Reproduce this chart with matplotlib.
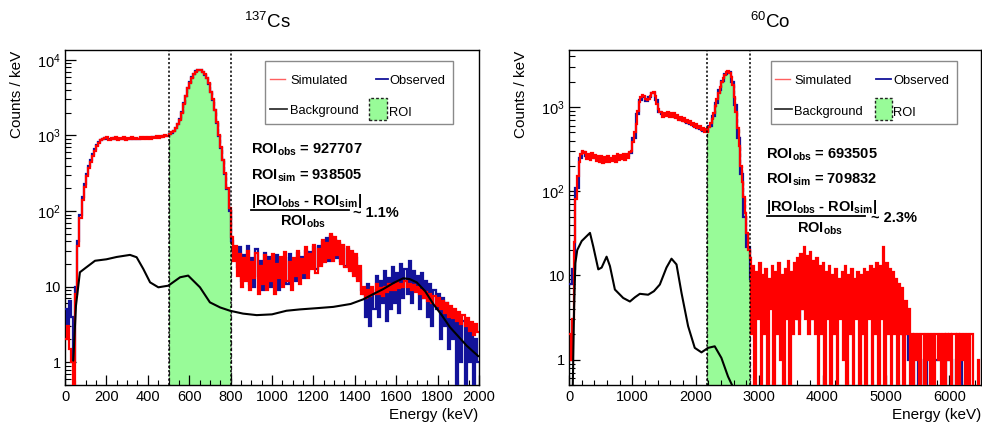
# Cs-137 and Co-60 spectra: simulated vs observed, with background and ROI
import numpy as np
import matplotlib
matplotlib.use("Agg")
import matplotlib.pyplot as plt
from matplotlib.patches import Rectangle
from matplotlib.lines import Line2D
from matplotlib.ticker import FixedLocator, LogLocator, NullFormatter, MultipleLocator

plt.rcParams['font.family'] = ['Liberation Sans', 'DejaVu Sans']
plt.rcParams['mathtext.fontset'] = 'custom'
plt.rcParams['mathtext.rm'] = 'Liberation Sans'
plt.rcParams['mathtext.bf'] = 'Liberation Sans:bold'
plt.rcParams['mathtext.it'] = 'Liberation Sans:italic'

# ---------------- 137Cs data (10 keV bins, 0-2000 keV) ----------------
cs_bin = 10
cs_sim = [2, 3, 1.5, 1, 0, 8, 35, 80, 140, 210, 290, 370, 450, 540, 630, 720, 800, 860, 900, 920,
          940, 880, 930, 890, 945, 875, 920, 895, 950, 880, 925, 890, 945, 900, 930, 885, 950, 905, 940, 895,
          955, 910, 960, 920, 975, 930, 985, 950, 1010, 980,
          1050, 1100, 1150, 1250, 1400, 1600, 2000, 2600, 3300, 4200, 5000, 5800, 6500, 7000, 7300,
          7300, 7000, 6500, 5800, 4900, 3800, 3000, 2200, 1500, 1000, 700, 480, 320, 200, 110,
          45, 22, 34, 14, 27, 10, 24, 12, 30, 9, 21, 13, 28, 8, 19, 11, 26, 9, 22, 12,
          27, 8, 20, 13, 25, 10, 29, 12, 21, 9, 24, 14, 30, 11, 23, 15, 33, 13, 27, 17,
          36, 15, 31, 19, 42, 21, 38, 24, 50, 22, 45, 26, 40, 20, 36, 18, 33, 16, 30, 14,
          27, 12, 19, 8, 10,
          7, 9, 7.5, 10, 8, 11, 8, 9.5, 7.5, 10, 8.5, 11, 9, 10.5, 9, 11.5, 9.5, 11, 10, 12,
          10, 11, 9, 10.5, 8.5, 10, 8, 9, 7, 8.5, 6.5, 8, 6, 7.5, 5.5, 7, 5, 6.5, 4.5, 6,
          4, 5.5, 3.8, 5, 3.5, 4.6, 3.2, 4.2, 3, 3.8, 2.6, 3.4, 2.3, 3.2, 2.5]
cs_obs = [5, 3, 6.5, 4, 1, 10, 40, 90, 155, 230, 310, 400, 480, 570, 660, 750, 830, 880, 905, 915,
          905, 910, 900, 915, 905, 900, 910, 905, 915, 900, 910, 905, 915, 910, 905, 910, 920, 915, 925, 920,
          930, 935, 940, 945, 950, 955, 965, 970, 985, 995,
          1040, 1090, 1150, 1260, 1420, 1650, 2050, 2650, 3350, 4250, 5050, 5850, 6550, 7050, 7300,
          7250, 6950, 6400, 5700, 4800, 3750, 2950, 2150, 1480, 990, 690, 470, 310, 195, 100,
          40, 26, 30, 18, 33, 12, 26, 16, 35, 11, 24, 10, 31, 14, 22, 9, 28, 12, 25, 10,
          23, 11, 26, 9, 22, 14, 24, 11, 27, 13, 20, 12, 28, 14, 25, 13, 30, 16, 29, 18,
          33, 17, 35, 20, 39, 23, 44, 22, 47, 25, 42, 24, 38, 22, 35, 19, 31, 17, 28, 15,
          24, 13, 16, 9, 8,
          4, 11, 3, 9, 5, 14, 4, 12, 6, 16, 3.5, 13, 5, 18, 6, 15, 4.5, 20, 7, 17,
          8, 22, 6, 16, 9, 14, 5, 15, 7, 12, 4, 11, 3, 9, 5, 8, 2, 7, 3, 6,
          1.5, 5, 2, 4, 0, 4, 1, 3.5, 0, 3, 1, 2.5, 0, 2, 1]
cs_bg_e = [40, 53, 72, 97, 145, 200, 250, 314, 346, 378, 411, 451, 499, 556, 595, 652, 700, 750, 797, 860,
           926, 1000, 1070, 1135, 1220, 1296, 1380, 1441, 1490, 1538, 1590, 1634, 1665, 1699, 1740, 1779,
           1820, 1860, 1900, 1940, 1997]
cs_bg_v = [1.05, 5.6, 15.5, 17.5, 22, 23, 24.7, 26.3, 24.5, 17.2, 11.4, 9.8, 10.3, 13.3, 14.0, 9.8, 6.2, 5.3, 4.8, 4.4,
           4.2, 4.3, 4.8, 5.0, 5.2, 5.4, 5.9, 6.8, 8.0, 9.3, 11.3, 12.9, 12.6, 11.4, 8.7, 5.9,
           4.2, 2.9, 2.2, 1.66, 1.2]
cs_roi = (500, 800)
cs_stats = ("927707", "938505", "1.1%")

# ---------------- 60Co data ----------------
co_sim_bin = 25
co_sim = [2, 1, 3, 25, 80, 150, 220, 275, 300, 285,
          290, 240, 275, 235, 285, 245, 270, 230, 265, 220, 260, 215, 255, 225, 265,
          220, 250, 230, 260, 225, 275, 235, 270, 240, 280, 235, 275, 250, 290, 300,
          380, 500, 620, 900, 1150, 1300, 1400, 1350, 1250, 1200, 1250, 1350, 1480, 1500, 1350, 1100, 950, 870,
          870, 770, 860, 775, 865, 765, 855, 770, 840, 750, 800, 710, 770, 690, 740,
          660, 710, 640, 690, 615, 650, 580, 620, 560, 590, 530, 565, 510, 545, 505,
          580, 640, 730, 860, 1030, 1240, 1480, 1730, 1960, 2200, 2420, 2580, 2670,
          2550, 2250, 1800, 1300, 880, 560, 340, 200, 130, 85, 55, 32, 20,
          16, 2, 13, 0, 11, 3, 14, 0, 10, 2, 12, 0, 9, 4, 13, 0, 11, 2, 14, 1, 10, 0, 12, 3, 15, 0, 11, 2,
          14, 3, 16, 2, 18, 4, 22, 3, 17, 2, 19, 3, 15, 2,
          16, 0, 13, 2, 14, 0, 11, 3, 13, 0, 10, 2, 12, 0, 9, 3, 11, 1, 13, 0,
          10, 2, 12, 0, 9, 3, 11, 0, 10, 2, 12, 0, 11, 3, 13, 0, 12, 2, 14, 0,
          13, 3, 22, 0, 14, 2, 12, 0, 11, 2, 9, 0,
          8, 2, 7, 0, 5, 2, 4,
          0, 2, 0, 2, 1, 2, 0, 2, 2, 0, 2, 1, 2, 0, 2, 0, 2, 2, 1, 2,
          0, 2, 0, 2, 1, 2, 0, 2, 2, 0, 2, 0, 2, 1, 2, 0, 2, 0, 2, 2, 0,
          0, 0, 1, 0]
co_obs_bin = 50
co_obs = [8, 12, 110, 250, 290, 265, 255, 260, 250, 240, 235, 240, 240, 235, 240, 250, 255, 255, 260, 285,
          430, 820, 1200, 1330, 1180, 1300, 1450, 1200, 880, 820, 810, 800, 800, 770, 740, 700, 680, 650, 620, 600,
          570, 545, 520, 515, 600, 780, 1120, 1580, 2050, 2450, 2580, 2000, 1050, 430, 160, 50, 22,
          9, 6, 8, 5, 7, 6, 8, 5, 7, 6, 8, 6, 7, 5, 8, 3, 4, 9, 7, 3,
          8, 6, 7, 5, 8, 6, 7, 5, 6, 7, 5, 6, 8, 5, 6, 7, 5, 6, 7, 6,
          5, 7, 6, 5, 6, 5, 4, 3, 2, 2, 1, 1, 0, 1, 0, 1, 0, 0, 1, 1,
          1, 0, 1, 1, 0, 1, 1, 0, 0, 0, 0, 0, 0]
co_bg_e = [60, 80, 100, 130, 200, 331, 383, 462, 515, 593, 646, 724, 855, 961, 1040, 1118, 1249, 1340, 1433, 1538,
           1617, 1696, 1775, 1879, 1984, 2090, 2194, 2299, 2404, 2509, 2600]
co_bg_v = [0.5, 4, 14, 20, 25.6, 32, 22, 11.8, 12.4, 16.7, 12.9, 6.8, 5.4, 4.9, 5.5, 6.05, 5.9, 6.5, 7.8, 12.4,
           15.8, 13.5, 6.2, 2.5, 1.38, 1.22, 1.38, 1.44, 1.05, 0.63, 0.45]
co_roi = (2175, 2850)
co_stats = ("693505", "709832", "2.3%")

assert len(cs_sim) == 200 and len(cs_obs) == 200, (len(cs_sim), len(cs_obs))
assert len(co_sim) == 260 and len(co_obs) == 130, (len(co_sim), len(co_obs))

RED = '#ff0000'
BLUE = '#12129a'
GREEN = '#98fb98'
W, H = 982, 430


def fx(px):
    return px / W


def fy(py):
    return 1 - py / H


def clip(v):
    v = np.asarray(v, dtype=float)
    return np.where(v <= 0, 0.1, v)


def draw_spectrum(ax, sim_bin, sim, obs_bin, obs, bg_e, bg_v, roi):
    sim_edges = np.arange(len(sim) + 1) * sim_bin
    obs_edges = np.arange(len(obs) + 1) * obs_bin
    sim = clip(sim)
    obs = clip(obs)
    # ROI fill under the simulated spectrum
    i0 = int(roi[0] // sim_bin)
    i1 = int(roi[1] // sim_bin)
    ax.stairs(sim[i0:i1], sim_edges[i0:i1 + 1], baseline=0.1, fill=True,
              facecolor=GREEN, edgecolor='none', zorder=1)
    ax.stairs(sim[i0:i1], sim_edges[i0:i1 + 1], baseline=0.1, fill=False,
              color='#222222', linestyle=(0, (3, 2)), lw=0.9, zorder=2)
    ax.stairs(obs, obs_edges, baseline=None, color=BLUE, lw=1.6, zorder=3)
    ax.stairs(sim, sim_edges, baseline=None, color=RED, lw=1.6, zorder=4)
    ax.plot(bg_e, bg_v, color='black', lw=1.5, zorder=5, solid_capstyle='round')
    for x in roi:
        ax.axvline(x, color='black', linestyle=(0, (1.4, 1.4)), lw=1.1, zorder=6)


def style_axes(ax, xmax, ymax, xmajor, xminor, ylabels):
    ax.set_yscale('log')
    ax.set_xlim(0, xmax)
    ax.set_ylim(0.5, ymax)
    ax.xaxis.set_major_locator(MultipleLocator(xmajor))
    ax.xaxis.set_minor_locator(MultipleLocator(xminor))
    decades = [10 ** k for k in range(len(ylabels))]
    ax.yaxis.set_major_locator(FixedLocator(decades))
    ax.set_yticklabels(ylabels)
    ax.yaxis.set_minor_locator(LogLocator(base=10, subs=np.arange(2, 10)))
    ax.yaxis.set_minor_formatter(NullFormatter())
    ax.tick_params(which='both', direction='in', top=False, right=False, labelsize=10.5)
    ax.tick_params(axis='x', which='major', length=7, width=0.9, pad=3.5)
    ax.tick_params(axis='x', which='minor', length=3.5, width=0.8)
    ax.tick_params(axis='y', which='major', length=8, width=0.9, pad=3)
    ax.tick_params(axis='y', which='minor', length=4, width=0.8)
    for s in ax.spines.values():
        s.set_linewidth(1.0)


def draw_legend(fig, box, l1, t1, l2, t2, roi_box, rows):
    x0, y0, x1, y1 = box
    fig.add_artist(Rectangle((fx(x0), fy(y1)), fx(x1) - fx(x0), fy(y0) - fy(y1), transform=fig.transFigure,
                             facecolor='white', edgecolor='#8a8a8a', lw=1.0, zorder=10))
    r1, r2 = rows
    fig.add_artist(Line2D([fx(l1[0]), fx(l1[1])], [fy(r1), fy(r1)], transform=fig.transFigure,
                          color='#ff6060', lw=1.0, zorder=11))
    fig.text(fx(t1), fy(r1 + 5), "Simulated", fontsize=9.3, va='baseline', zorder=11)
    fig.add_artist(Line2D([fx(l2[0]), fx(l2[1])], [fy(r1), fy(r1)], transform=fig.transFigure,
                          color=BLUE, lw=1.3, zorder=11))
    fig.text(fx(t2), fy(r1 + 5), "Observed", fontsize=9.3, va='baseline', zorder=11)
    fig.add_artist(Line2D([fx(l1[0]), fx(l1[1]) + 0.002], [fy(r2), fy(r2)], transform=fig.transFigure,
                          color='#333333', lw=1.3, zorder=11))
    fig.text(fx(t1), fy(r2 + 5.5), "Background", fontsize=9.3, va='baseline', zorder=11)
    bx0, by0, bx1, by1 = roi_box
    fig.add_artist(Rectangle((fx(bx0), fy(by1)), fx(bx1) - fx(bx0), fy(by0) - fy(by1), transform=fig.transFigure,
                             facecolor=GREEN, edgecolor='#222222', lw=1.0, linestyle=(0, (2, 1.5)), zorder=11))
    fig.text(fx(t2), fy(r2 + 7.5), "ROI", fontsize=9.3, va='baseline', zorder=11)


def draw_stats(fig, x, base, line_y, line_x1, den_x, den_base, tilde_x, tilde_base, stats):
    obs, sim, pct = stats
    fs = 10.5
    fig.text(fx(x), fy(base[0]), r'ROI$_{\mathbf{obs}}$ = ' + obs, fontsize=fs, fontweight='bold', va='baseline')
    fig.text(fx(x), fy(base[1]), r'ROI$_{\mathbf{sim}}$ = ' + sim, fontsize=fs, fontweight='bold', va='baseline')
    fig.text(fx(x), fy(base[2]), r'|ROI$_{\mathbf{obs}}$ - ROI$_{\mathbf{sim}}$|', fontsize=fs,
             fontweight='bold', va='baseline')
    fig.add_artist(Line2D([fx(x), fx(line_x1)], [fy(line_y), fy(line_y)], transform=fig.transFigure,
                          color='black', lw=1.3))
    fig.text(fx(den_x), fy(den_base), r'ROI$_{\mathbf{obs}}$', fontsize=fs, fontweight='bold', va='baseline')
    fig.text(fx(tilde_x), fy(tilde_base), '~ ' + pct, fontsize=fs, fontweight='bold', va='baseline')


fig = plt.figure(figsize=(9.82, 4.30), dpi=100)

# left panel: 137Cs
ax1 = fig.add_axes([fx(65), fy(385), fx(479) - fx(65), fy(50) - fy(385)])
draw_spectrum(ax1, cs_bin, cs_sim, cs_bin, cs_obs, cs_bg_e, cs_bg_v, cs_roi)
style_axes(ax1, 2000, 13500, 200, 50, ['1', '10', r'$10^{2}$', r'$10^{3}$', r'$10^{4}$'])

# right panel: 60Co
ax2 = fig.add_axes([fx(569), fy(385), fx(981) - fx(569), fy(50) - fy(385)])
draw_spectrum(ax2, co_sim_bin, co_sim, co_obs_bin, co_obs, co_bg_e, co_bg_v, co_roi)
style_axes(ax2, 6500, 4750, 1000, 200, ['1', '10', r'$10^{2}$', r'$10^{3}$'])

# titles and axis labels
fig.text(fx(267), fy(28.5), r'$^{137}$Cs', fontsize=13.5, ha='center', va='baseline')
fig.text(fx(770), fy(28.5), r'$^{60}$Co', fontsize=13.5, ha='center', va='baseline')
for cx in (17, 521):
    fig.text(fx(cx), fy(51), 'Counts / keV', fontsize=11, rotation=90, ha='center', va='top')
for rx in (478.5, 981.5):
    fig.text(fx(rx), fy(408.5), 'Energy (keV)', fontsize=11, ha='right', va='top')

# legends
draw_legend(fig, (265, 61, 453, 124), (270, 285), 290, (376, 388), 389.5, (369, 98, 387, 120), (78.5, 108.5))
draw_legend(fig, (771, 61, 957, 124), (775, 790), 794, (876, 891), 893.5, (875, 98, 891.5, 120), (78.5, 109))

# ROI statistics
draw_stats(fig, 250.5, (153.3, 179.3, 205.5), 209.5, 349, 280, 225.5, 353, 216.7, cs_stats)
draw_stats(fig, 766.5, (158.3, 183.3, 211), 216.5, 865, 797, 232.5, 871, 221.7, co_stats)

fig.savefig('out.png', dpi=100)
